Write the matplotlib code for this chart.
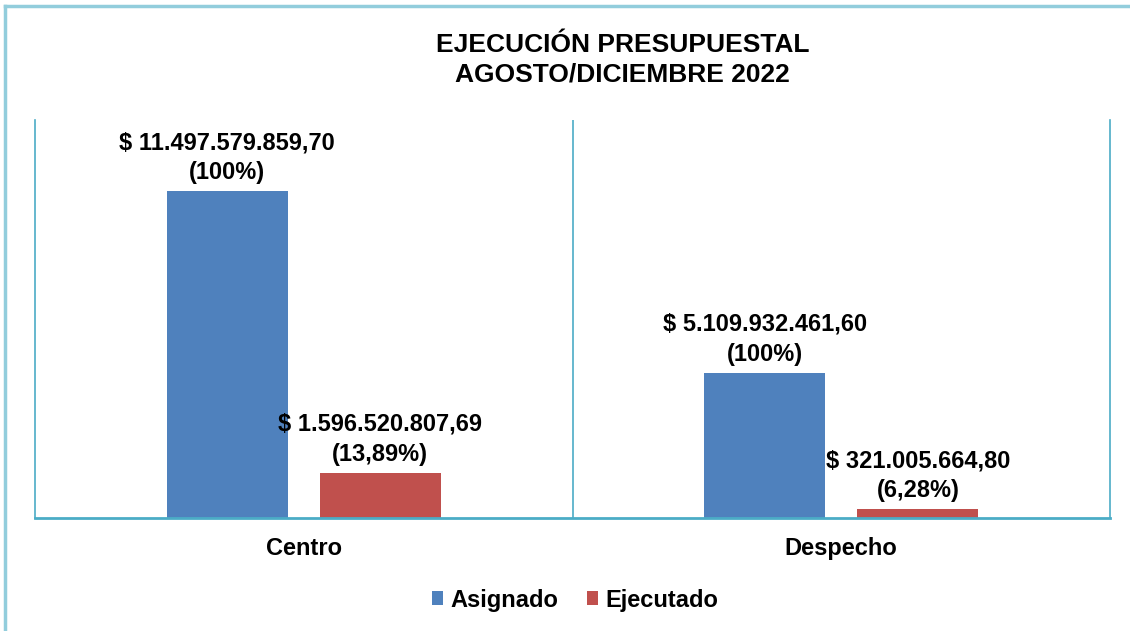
import numpy as np
import matplotlib.pyplot as plt
from matplotlib.lines import Line2D

plt.rcParams['font.family'] = ['Liberation Sans', 'DejaVu Sans']
plt.rcParams['font.weight'] = 'bold'

# Presupuesto por dependencia
categorias = ['Centro', 'Despecho']
asignado = [11497579859.70, 5109932461.60]
ejecutado = [1596520807.69, 321005664.80]
etiq_asignado = ['$ 11.497.579.859,70\n(100%)', '$ 5.109.932.461,60\n(100%)']
etiq_ejecutado = ['$ 1.596.520.807,69\n(13,89%)', '$ 321.005.664,80\n(6,28%)']

azul = '#4F81BD'
rojo = '#C0504D'
linea = '#4BACC6'

fig = plt.figure(figsize=(11.3, 6.31), dpi=100)
ax = fig.add_axes([35 / 1130, 1 - 518 / 631, 1075 / 1130, 398 / 631])

x = np.arange(len(categorias))
ancho = 0.225
desp = 0.1425
b1 = ax.bar(x - desp, asignado, ancho, color=azul, label='Asignado')
b2 = ax.bar(x + desp, ejecutado, ancho, color=rojo, label='Ejecutado')

for barras, textos in ((b1, etiq_asignado), (b2, etiq_ejecutado)):
    for b, t in zip(barras, textos):
        ax.annotate(t, (b.get_x() + b.get_width() / 2, b.get_height()),
                    xytext=(0, 5), textcoords='offset points',
                    ha='center', va='bottom', fontsize=17, fontweight='bold',
                    linespacing=1.38)

ax.set_xlim(-0.5, 1.5)
ax.set_ylim(0, 14e9)
ax.set_yticks([])
ax.set_xticks(x)
ax.set_xticklabels(categorias, fontsize=17, fontweight='bold')
ax.tick_params(axis='x', length=0, pad=14)
ax.axvline(0.5, color=linea, lw=1.2)
ax.spines['top'].set_visible(False)
for s in ('left', 'right'):
    ax.spines[s].set_color(linea)
    ax.spines[s].set_linewidth(1.2)
ax.spines['bottom'].set_color(linea)
ax.spines['bottom'].set_linewidth(2)

fig.text(0.551, 1 - 60 / 631, 'EJECUCIÓN PRESUPUESTAL\nAGOSTO/DICIEMBRE 2022',
         ha='center', va='center', fontsize=19, fontweight='bold', linespacing=1.3)

fig.legend(loc='center', bbox_to_anchor=(575 / 1130, 1 - 600 / 631), ncol=2,
           frameon=False, fontsize=17, handlelength=0.5, handleheight=0.5,
           handletextpad=0.3, columnspacing=1.2)

# marco exterior
borde = '#92CDDC'
fig.add_artist(Line2D([5 / 1130, 5 / 1130], [0, 1 - 6 / 631], color=borde, lw=2.5))
fig.add_artist(Line2D([5 / 1130, 1], [1 - 6 / 631, 1 - 6 / 631], color=borde, lw=2.5))

fig.savefig('out.png', dpi=100, facecolor='white')
